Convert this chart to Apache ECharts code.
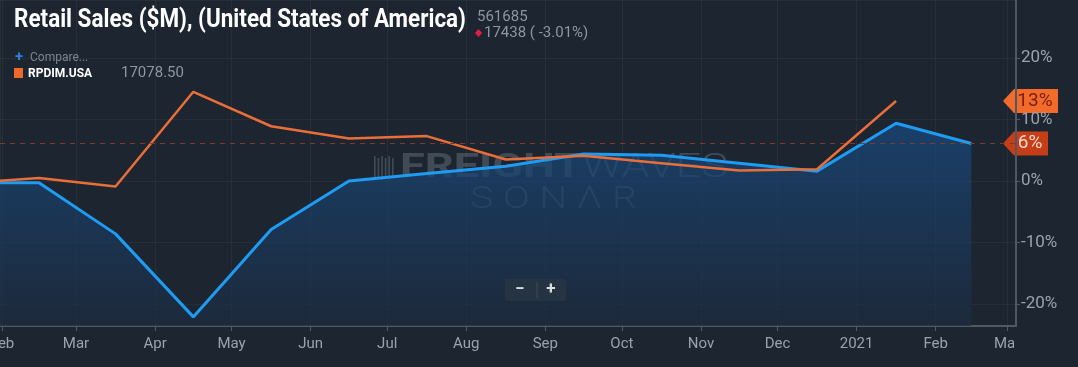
<!DOCTYPE html>
<html>
<head>
<meta charset="utf-8">
<script src="https://cdn.jsdelivr.net/npm/echarts@6/dist/echarts.min.js"></script>
<style>
html,body{margin:0;padding:0;background:#1d2530;}
#chart{width:1078px;height:367px;}
</style>
</head>
<body>
<div id="chart"></div>
<script>
// ---- data ----
const months = ['2020-01','2020-02','2020-03','2020-04','2020-05','2020-06','2020-07','2020-08','2020-09','2020-10','2020-11','2020-12','2021-01','2021-02'];
const retailSalesYoY = [-0.3, -0.3, -8.6, -22.1, -7.9, 0.0, 1.2, 2.4, 4.4, 4.2, 2.9, 1.6, 9.4, 6.1];
const rpdimYoY = [-0.4, 0.5, -0.9, 14.5, 8.9, 6.9, 7.3, 3.5, 4.1, 2.9, 1.7, 1.9, 13.0, null];
const yTickValues = [-20, -10, 0, 10, 20];
const titleText = 'Retail Sales ($M), (United States of America)';
const headerValue = '561685';
const headerChange = '17438 ( -3.01%)';
const compareName = 'RPDIM.USA';
const compareValue = '17078.50';
const xRange = ['2020-01-31T05:00:00', '2021-03-04T12:00:00'];
const yRange = [-23.58, 29.43];

function midMonth(s){
  const p = s.split('-').map(Number);
  const a = new Date(p[0], p[1]-1, 1).getTime();
  const b = new Date(p[0], p[1], 1).getTime();
  return (a + b) / 2;
}
const blueData = months.map((m,i)=>[midMonth(m), retailSalesYoY[i]]);
const orangeData = months.map((m,i)=>[midMonth(m), rpdimYoY[i]]).filter(d=>d[1]!==null);
const lastBlue = retailSalesYoY[retailSalesYoY.length-1];
const lastOrange = orangeData[orangeData.length-1][1];

const BG = '#1d2530';
const chart = echarts.init(document.getElementById('chart'));

const option = {
  backgroundColor: BG,
  animation: false,
  grid: {left: 0, right: 62, top: 0, bottom: 41, containLabel: false, outerBoundsMode: 'none'},
  xAxis: {
    type: 'time',
    min: new Date(xRange[0]).getTime(),
    max: new Date(xRange[1]).getTime(),
    minInterval: 27*86400000,
    maxInterval: 32*86400000,
    axisLine: {show: true, onZero: false, lineStyle: {color: '#4e5965', width: 2}},
    axisTick: {show: true, length: 5, lineStyle: {color: '#4e5965'}},
    splitLine: {show: true, lineStyle: {color: 'rgba(255,255,255,0.045)', width: 1}},
    axisLabel: {
      color: '#9aa3ad', fontFamily: 'Roboto', fontSize: 15, margin: 11,
      hideOverlap: false, showMinLabel: false, showMaxLabel: false,
      formatter: {year: '{yyyy}', month: '{MMM}', day: '{MMM}'}
    }
  },
  yAxis: {
    type: 'value',
    position: 'right',
    min: yRange[0], max: yRange[1],
    splitNumber: 5,
    axisLine: {show: true, lineStyle: {color: '#4e5965', width: 2}},
    axisTick: {show: true, length: 4, inside: false, lineStyle: {color: '#4e5965'}},
    splitLine: {show: true, lineStyle: {color: 'rgba(255,255,255,0.045)'}},
    axisLabel: {
      color: '#9aa3ad', fontFamily: 'Roboto', fontSize: 17, margin: 5,
      showMinLabel: false, showMaxLabel: false,
      formatter: v => (yTickValues.some(t => Math.abs(t - v) < 1e-6) ? Math.round(v) + '%' : '')
    }
  },
  series: [
    {
      name: 'Retail Sales', type: 'line', data: blueData, symbol: 'none', z: 3,
      lineStyle: {color: '#1e9cf2', width: 3},
      areaStyle: {
        origin: 'start',
        color: new echarts.graphic.LinearGradient(0,0,0,1,[
          {offset: 0, color: '#184b82'},
          {offset: 1, color: '#1c2b3f'}
        ])
      },
      markLine: {
        silent: true, symbol: 'none', label: {show: false},
        lineStyle: {color: '#7f3a2c', type: [5,5], width: 1},
        data: [{yAxis: lastBlue}]
      }
    },
    {
      name: 'RPDIM.USA', type: 'line', data: orangeData, symbol: 'none', z: 4,
      lineStyle: {color: '#ea6e38', width: 2.5}
    }
  ]
};
chart.setOption(option);

// ---- overlays ----
function measure(text, font){
  const c = document.createElement('canvas').getContext('2d');
  c.font = font; return c.measureText(text).width;
}
const titleW = measure(titleText, 'bold 25px Roboto');
const titleScale = 452 / titleW;
const wmW = measure('FREIGHT', 'bold 34px Roboto') + measure('WAVES', '300 34px Roboto');
const wmScale = 328 / wmW;
const snW = measure('S O N Λ R', '300 32px Roboto');
const snScale = 167 / snW;

const yBlue = chart.convertToPixel({yAxisIndex: 0}, lastBlue);
const yOrange = chart.convertToPixel({yAxisIndex: 0}, lastOrange);

function tag(y, x0, x1, fill, textColor, label){
  const h = 12;
  return {
    type: 'group', z: 100,
    children: [
      {type: 'polygon', shape: {points: [[x0, y], [x0+11, y-h], [x1, y-h], [x1, y+h], [x0+11, y+h]]}, style: {fill: fill}},
      {type: 'text', x: (x0 + 9 + x1)/2, y: y, style: {text: label, fill: textColor, font: '19px Roboto', align: 'center', verticalAlign: 'middle'}}
    ]
  };
}

const WM = 'rgba(205,215,230,0.21)';
const logoBars = [];
for (let i = 0; i < 6; i++) {
  logoBars.push({type: 'rect', shape: {x: 374 + i*3.6, y: 156 + (i%2)*2, width: 1.6, height: 24 - (i%2)*4}, style: {fill: WM}});
}

chart.setOption({
  graphic: [
    {type: 'rect', z: 50, shape: {x: 1014, y: 330, width: 64, height: 37}, style: {fill: BG}},
    {type: 'text', x: 14, y: 21, scaleX: titleScale, z: 60,
      style: {text: titleText, fill: '#ffffff', font: 'bold 25px Roboto', verticalAlign: 'middle'}},
    {type: 'text', x: 477, y: 17, z: 60, style: {text: headerValue, fill: '#8d96a1', font: '15px Roboto', verticalAlign: 'middle'}},
    {type: 'polygon', z: 60, shape: {points: [[478.5, 29], [482, 33], [478.5, 37], [475, 33]]}, style: {fill: '#e31b4a'}},
    {type: 'text', x: 484, y: 33, z: 60, style: {text: headerChange, fill: '#8d96a1', font: '15px Roboto', verticalAlign: 'middle'}},
    {type: 'text', x: 15, y: 57, z: 60, style: {text: '+', fill: '#2f7fdc', font: 'bold 15px Roboto', verticalAlign: 'middle'}},
    {type: 'text', x: 30, y: 58, z: 60, style: {text: 'Compare...', fill: '#7c8690', font: '12px Roboto', verticalAlign: 'middle'}},
    {type: 'rect', z: 60, shape: {x: 14, y: 68, width: 9, height: 10}, style: {fill: '#f0692b'}},
    {type: 'text', x: 28, y: 73.5, z: 60, style: {text: compareName, fill: '#ffffff', font: 'bold 12px Roboto', verticalAlign: 'middle'}},
    {type: 'text', x: 121, y: 73.5, z: 60, style: {text: compareValue, fill: '#8d96a1', font: '15px Roboto', verticalAlign: 'middle'}},
    // watermark
    {type: 'group', z: 1, silent: true, children: logoBars},
    {type: 'text', x: 400, y: 168, scaleX: wmScale, z: 1, silent: true, style: {
      text: '{b|FREIGHT}{t|WAVES}', verticalAlign: 'middle',
      rich: {
        b: {fill: WM, font: 'bold 34px Roboto'},
        t: {fill: WM, font: '300 34px Roboto'}
      }
    }},
    {type: 'text', x: 470, y: 200, scaleX: snScale, z: 1, silent: true, style: {
      text: 'S O N Λ R', fill: WM, font: '300 32px Roboto', verticalAlign: 'middle'
    }},
    // zoom buttons
    {type: 'rect', z: 60, shape: {x: 505, y: 279, width: 61, height: 22, r: 2}, style: {fill: 'rgba(40,52,66,0.9)'}},
    {type: 'line', z: 61, shape: {x1: 537, y1: 282, x2: 537, y2: 298}, style: {stroke: 'rgba(255,255,255,0.12)', lineWidth: 1}},
    {type: 'text', x: 520, y: 290, z: 61, style: {text: '−', fill: '#d8dde2', font: 'bold 17px Roboto', align: 'center', verticalAlign: 'middle'}},
    {type: 'text', x: 551, y: 290, z: 61, style: {text: '+', fill: '#d8dde2', font: 'bold 17px Roboto', align: 'center', verticalAlign: 'middle'}},
    // value tags on the right axis
    tag(yOrange, 1003, 1058, '#f36b2b', '#7a200c', Math.round(lastOrange) + '%'),
    tag(yBlue, 1003, 1048, '#c63e17', '#f7d9cf', Math.round(lastBlue) + '%')
  ]
});
</script>
</body>
</html>
